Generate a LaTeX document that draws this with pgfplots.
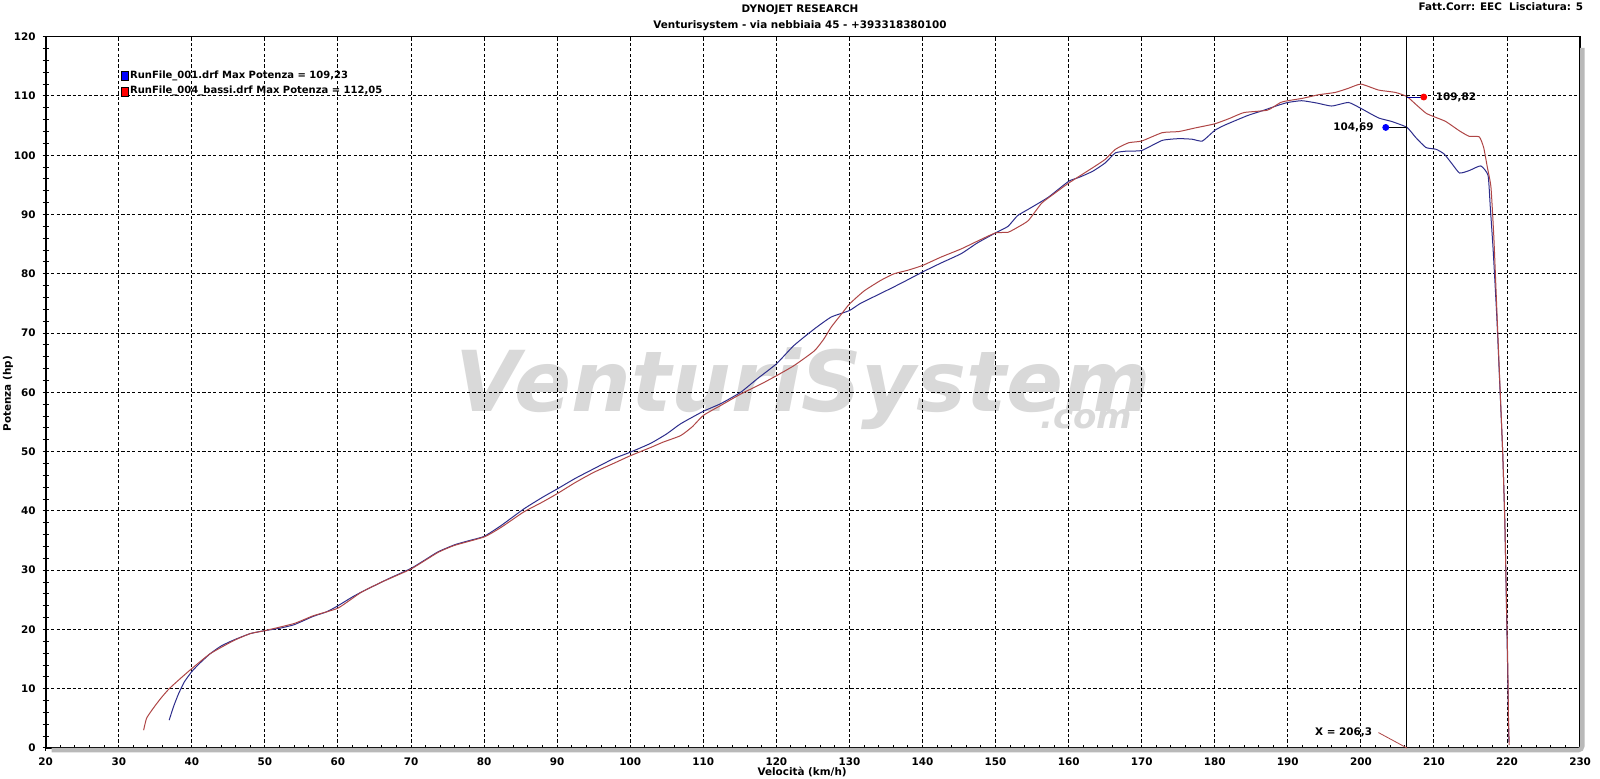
\documentclass[border=0pt]{standalone}
\usepackage{fontspec}
\setmainfont{DejaVu Sans}
\usepackage{pgfplots}
\pgfplotsset{compat=1.18}

\definecolor{runblue}{RGB}{45,45,140}
\definecolor{runred}{RGB}{175,70,70}

\begin{document}
\begin{tikzpicture}
% shadow of the frame
\draw[gray!55, line width=2.2pt, rounded corners=2pt] (3pt,-1.1pt) -- (768.3pt,-1.1pt) -- (768.3pt,350pt);

\begin{axis}[
    set layers,
    scale only axis,
    width=767.2pt, height=355.65pt,
    xmin=20, xmax=230, ymin=0, ymax=120,
    xtick={20,30,...,230}, ytick={0,10,...,120},
    minor tick num=4,
    xtick pos=bottom, ytick pos=left,
    tick align=center,
    major tick length=3pt, minor tick length=3pt,
    tick style={black, line width=0.5pt},
    grid=major,
    major grid style={black, line width=0.5pt, dash pattern=on 1.6pt off 1.1pt},
    axis line style={black, line width=0.8pt},
    axis background/.style={fill=white},
    font=\bfseries\fontsize{5.2}{6}\selectfont,
    ticklabel style={font=\bfseries\fontsize{5.2}{6}\selectfont},
    /pgf/number format/assume math mode=true,
    /pgf/number format/1000 sep={},
    xlabel={Velocità (km/h)},
    ylabel={Potenza (hp)},
    every axis x label/.style={at={(rel axis cs:0.493,0)}, anchor=center, yshift=-12pt},
    every axis y label/.style={at={([xshift=-18.8pt]rel axis cs:0,0.498)}, anchor=center, rotate=90},
    legend style={at={(axis cs:30.3,114.6)}, anchor=north west, draw=none, fill=none,
        font=\bfseries\fontsize{5}{5.8}\selectfont, inner sep=0pt,
        nodes={inner sep=0.7pt}, row sep=1.2pt},
    legend cell align=left,
    clip=false,
]
\begin{pgfonlayer}{axis background}
\node[font=\bfseries\itshape\fontsize{42}{42}\selectfont, text=black!15] at (axis cs:123.7,60.6) {VenturiSystem};
\node[font=\bfseries\itshape\fontsize{17}{17}\selectfont, text=black!15] at (axis cs:162.4,55.4) {.com};
\end{pgfonlayer}

\addplot[runblue, line width=0.5pt, smooth, tension=0.3,
    legend image code/.code={\draw[draw=black, line width=0.25pt, fill=blue] (0pt,-2.2pt) rectangle (3.4pt,2.4pt);}]
coordinates {
(36.9,4.7) (37.5,7.0) (38.2,9.2) (39.0,11.2) (40.0,12.9) (41.0,14.2) (42.5,15.9) (44.0,17.2)
(45.7,18.2) (48.0,19.3) (50.0,19.8) (52.0,20.2) (54.0,20.8) (56.6,22.2) (58.5,23.0) (60.0,24.0)
(62.0,25.5) (63.5,26.5) (65.0,27.4) (67.0,28.6) (70.0,30.3) (72.0,31.8) (73.7,33.1) (76.0,34.3)
(78.0,35.0) (80.0,35.7) (82.3,37.5) (85.4,40.3) (88.0,42.3) (90.0,43.7) (92.5,45.5) (95.0,47.1)
(97.7,48.8) (100.0,49.9) (102.8,51.4) (105.0,53.0) (106.9,54.7) (110.0,56.8) (112.4,58.1)
(115.1,60.0) (117.4,62.3) (120.0,64.8) (122.4,67.9) (125.2,70.7) (127.5,72.7) (130.0,73.8)
(131.5,75.0) (134.3,76.7) (136.1,77.8) (138.0,79.0) (140.0,80.3) (142.5,81.8) (145.3,83.4)
(147.5,85.2) (150.0,86.9) (151.7,88.0) (153.0,89.8) (154.5,90.9) (157.2,92.9) (160.0,95.6)
(161.5,96.3) (163.3,97.3) (165.0,98.7) (166.4,100.4) (168.0,100.7) (170.0,100.8) (172.8,102.5)
(175.1,102.8) (176.9,102.7) (178.3,102.4) (180.0,104.2) (181.4,105.1) (184.5,106.7) (186.5,107.5)
(188.6,108.4) (190.0,108.9) (191.9,109.2) (194.0,108.8) (196.0,108.3) (198.3,108.9) (200.0,107.9)
(202.4,106.3) (204.2,105.7) (206.3,104.7) (207.5,103.0) (208.9,101.3) (210.3,101.0) (211.4,100.2)
(212.5,98.5) (213.5,97.0) (214.8,97.4) (216.4,98.2) (217.4,96.6) (217.7,91.4) (218.1,84.0)
(218.6,72.7) (219.0,61.5) (219.4,50) (219.7,38) (219.9,25) (220.1,12) (220.2,4) (220.25,1)
};
\addlegendentry{RunFile\_001.drf Max Potenza = 109,23}

\addplot[runred, line width=0.5pt, smooth, tension=0.3,
    legend image code/.code={\draw[draw=black, line width=0.25pt, fill=red] (0pt,-2.2pt) rectangle (3.4pt,2.4pt);}]
coordinates {
(33.4,3.0) (33.8,5.0) (34.6,6.5) (35.7,8.3) (36.9,10.0) (38.5,11.8) (40.0,13.4) (42.5,15.9)
(45.7,18.1) (48.0,19.3) (50.0,19.8) (54.0,21.0) (56.6,22.3) (60.0,23.6) (63.1,26.2) (66.0,28.0)
(70.0,30.2) (73.7,33.0) (76.0,34.2) (80.0,35.6) (82.3,37.2) (85.4,39.8) (88.0,41.5) (90.0,42.9)
(92.5,44.8) (95.0,46.5) (97.7,48.0) (100.0,49.3) (102.8,50.7) (104.5,51.6) (106.9,52.7)
(108.5,54.2) (110.0,56.1) (112.4,57.8) (115.1,59.7) (117.9,61.4) (120.0,62.8) (122.4,64.5)
(125.2,67.0) (126.5,69.0) (127.5,71.0) (128.9,73.2) (130.0,74.9) (132.0,77.1) (134.3,78.9)
(136.1,80.0) (138.0,80.6) (140.0,81.4) (142.5,82.8) (145.3,84.2) (147.5,85.5) (150.0,86.9)
(151.7,87.0) (153.1,87.9) (154.5,89.0) (156.3,91.9) (158.0,93.5) (160.0,95.3) (163.3,97.9)
(165.0,99.3) (166.4,101.0) (168.2,102.1) (170.0,102.4) (172.8,103.8) (175.1,104.0) (177.3,104.6)
(180.0,105.3) (182.0,106.2) (184.0,107.2) (187.2,107.6) (189.0,108.9) (190.0,109.2) (192.0,109.6)
(194.2,110.2) (196.5,110.6) (198.3,111.3) (200.0,112.0) (202.4,111.0) (204.7,110.6) (206.3,109.9)
(207.5,108.6) (208.9,107.1) (210.0,106.5) (211.6,105.7) (213.5,104.1) (214.8,103.2) (216.2,103.1)
(216.8,101.3) (217.3,98.0) (217.8,94.6) (218.2,86.0) (218.6,74.0) (219.0,62.0) (219.4,50)
(219.7,38) (219.9,26) (220.1,14) (220.2,5) (220.3,0.5)
};
\addlegendentry{RunFile\_004\_bassi.drf Max Potenza = 112,05}

% cursor line and readouts
\addplot[black, line width=0.45pt] coordinates {(206.3,0) (206.3,120)};
\addplot[black, line width=0.45pt] coordinates {(203.4,104.69) (206.3,104.69)};
\addplot[blue!60!black, line width=0.45pt] coordinates {(206.3,109.82) (208.6,109.82)};
\addplot[only marks, mark=*, mark size=1.5pt, blue] coordinates {(203.4,104.69)};
\addplot[only marks, mark=*, mark size=1.5pt, red] coordinates {(208.6,109.82)};
\addplot[runred, line width=0.4pt] coordinates {(202.4,2.6) (206.3,0)};
\node[anchor=west, font=\bfseries\fontsize{5.2}{6}\selectfont] at (axis cs:209.3,109.82) {109,82};
\node[anchor=east, font=\bfseries\fontsize{5.2}{6}\selectfont] at (axis cs:202.7,104.69) {104,69};
\node[anchor=east, font=\bfseries\fontsize{5.2}{6}\selectfont] at (axis cs:202.5,2.6) {X = 206,3};
\end{axis}

% header
\node[font=\bfseries\fontsize{5.2}{6}\selectfont] at (377.15pt,369.0pt) {DYNOJET RESEARCH};
\node[font=\bfseries\fontsize{5.2}{6}\selectfont] at (377.15pt,361.2pt) {Venturisystem - via nebbiaia 45 - +393318380100};
\node[anchor=east, font=\bfseries\fontsize{5.2}{6}\selectfont] at (772.2pt,370.6pt) {Fatt.Corr: EEC\ \ Lisciatura: 5};

\pgfresetboundingbox
\useasboundingbox (-22.85pt,-15.5pt) rectangle (777.15pt,374pt);
\end{tikzpicture}
\end{document}
